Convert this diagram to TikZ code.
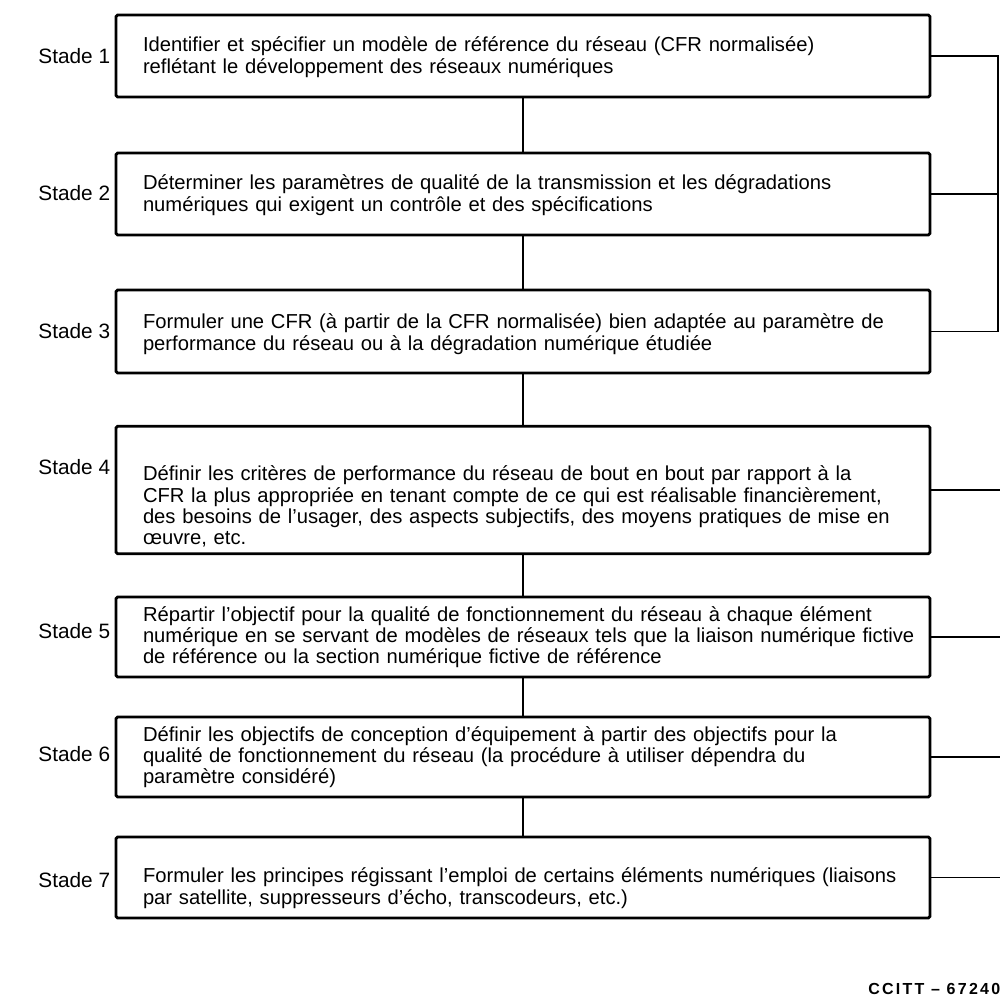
\documentclass[tikz,border=0pt]{standalone}
\usepackage{fontspec}
\setmainfont{Liberation Sans}
\usetikzlibrary{positioning}

\begin{document}
\begin{tikzpicture}[x=0.5pt, y=-0.5pt,
    stadebox/.style={draw, line width=1.4pt, rounded corners=0.8pt, minimum width=407pt,
                     text width=380pt, inner xsep=13.5pt, align=left,
                     font=\fontsize{10.1}{10.6}\selectfont},
    stadelabel/.style={anchor=west, inner sep=0pt, font=\fontsize{10.4}{12}\selectfont},
    link/.style={line width=0.9pt}]
\useasboundingbox (0,0) rectangle (1000,996);
% stades
\node[stadebox, minimum height=41pt] (b1) at (523,56)
  {\rule{0pt}{8.5pt}Identifier et spécifier un modèle de référence du réseau (CFR normalisée)\\
   reflétant le développement des réseaux numériques};
\node[stadebox, minimum height=41pt] (b2) at (523,194)
  {\rule{0pt}{8.5pt}Déterminer les paramètres de qualité de la transmission et les dégradations\\
   numériques qui exigent un contrôle et des spécifications};
\node[stadebox, minimum height=41.5pt] (b3) at (523,331.5)
  {\rule{0pt}{10pt}Formuler une CFR (à partir de la CFR normalisée) bien adaptée au paramètre de\\
   performance du réseau ou à la dégradation numérique étudiée};
\node[stadebox, minimum height=61pt] (b4) at (523,490)
  {\rule{0pt}{24pt}Définir les critères de performance du réseau de bout en bout par rapport à la\\
   CFR la plus appropriée en tenant compte de ce qui est réalisable financièrement,\\
   des besoins de l'usager, des aspects subjectifs, des moyens pratiques de mise en\\
   \oe uvre, etc.};
\node[stadebox, minimum height=40pt] (b5) at (523,637)
  {Répartir l'objectif pour la qualité de fonctionnement du réseau à chaque élément\\
   \mbox{numérique en se servant de modèles de réseaux tels que la liaison numérique fictive}\\
   de référence ou la section numérique fictive de référence};
\node[stadebox, minimum height=40pt] (b6) at (523,757)
  {Définir les objectifs de conception d'équipement à partir des objectifs pour la\\
   qualité de fonctionnement du réseau (la procédure à utiliser dépendra du\\
   paramètre considéré)};
\node[stadebox, minimum height=40.5pt] (b7) at (523,877.5)
  {\rule{0pt}{18pt}\mbox{Formuler les principes régissant l'emploi de certains éléments numériques (liaisons}\\
   par satellite, suppresseurs d'écho, transcodeurs, etc.)};
% labels
\node[stadelabel] (l1) at (38,56) {Stade 1};
\node[stadelabel] (l2) at (38,193) {Stade 2};
\node[stadelabel] (l3) at (38,331) {Stade 3};
\node[stadelabel] (l4) at (38,467) {Stade 4};
\node[stadelabel] (l5) at (38,631) {Stade 5};
\node[stadelabel] (l6) at (38,754) {Stade 6};
\node[stadelabel] (l7) at (38,880) {Stade 7};
% liaisons
\draw[link] (b1) -- (b2);
\draw[link] (b2) -- (b3);
\draw[link] (b3) -- (b4);
\draw[link] (b4) -- (b5);
\draw[link] (b5) -- (b6);
\draw[link] (b6) -- (b7);
\coordinate (r1) at (998,56);
\coordinate (r2) at (998,194);
\coordinate (r3) at (998,331.5);
\draw[link] (b1.east) -- (r1) -- (r3) -- (b3.east);
\draw[link] (b2.east) -- (r2);
\foreach \i in {4,...,7}
  \draw[link] (b\i.east) -- ++(70,0) coordinate (r\i);
\node[anchor=west, inner sep=0pt, font=\fontsize{8}{9}\selectfont\bfseries\addfontfeature{LetterSpace=14}] (ref) at (868,989) {CCITT -- 67240};
\end{tikzpicture}
\end{document}
